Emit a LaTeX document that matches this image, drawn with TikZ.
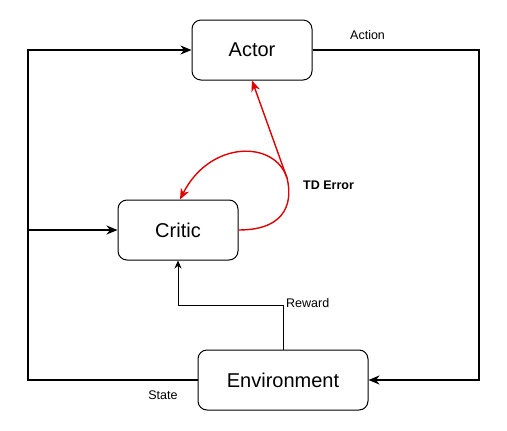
\documentclass[tikz,border=0pt]{standalone}
\usepackage{fontspec}
\setmainfont{Liberation Sans}
\usetikzlibrary{arrows.meta}
\definecolor{tdred}{RGB}{222,0,0}

\begin{document}
\begin{tikzpicture}[x=1pt,y=-1pt,
  box/.style={draw,rounded corners=9pt,line width=1pt,minimum width=120pt,minimum height=60pt,font=\fontsize{20}{24}\selectfont},
  lab/.style={font=\fontsize{12.5}{15}\selectfont,inner sep=0pt},
  flow/.style={line width=1.8pt,-{Stealth[length=11pt,width=9pt]}},
  thin/.style={line width=0.9pt,-{Stealth[length=8pt,width=7pt]}},
  tderr/.style={draw=tdred,line width=1.4pt,-{Stealth[length=11pt,width=9pt]}}]
\useasboundingbox (0,0) rectangle (507,431);

\node[box] (actor) at (252,50) {Actor};
\node[box] (critic) at (178,230) {Critic};
\node[box,minimum width=170pt] (env) at (283,380) {Environment};

% hilfspunkte
\coordinate (lb) at (28,380);
\coordinate (lm) at (28,230);
\coordinate (lt) at (28,50);
\coordinate (rt) at (479,50);
\coordinate (rb) at (479,380);
\coordinate (rw) at (283,305);
\coordinate (td) at (287,178);

\draw[flow] (env.west)--(lb)--(lt)--(actor.west);
\draw[flow] (lm)--(critic.west);
\draw[flow] (actor.east)--(rt)--(rb)--(env.east);
\draw[thin] (env.north)--(rw)-|(critic.south);

\draw[tderr] (critic.east) .. controls (290,230) and (292,198) .. (td)--(actor.south);
\draw[tderr] (td) .. controls (275,140) and (210,140) .. ([xshift=2pt]critic.north);

\node[lab,anchor=west] (action) at (350,35) {Action};
\node[lab,anchor=west] (tdlab) at (303,185) {\bfseries TD Error};
\node[lab,anchor=west] (reward) at (286,303) {Reward};
\node[lab] (state) at (163,395) {State};
\end{tikzpicture}
\end{document}
